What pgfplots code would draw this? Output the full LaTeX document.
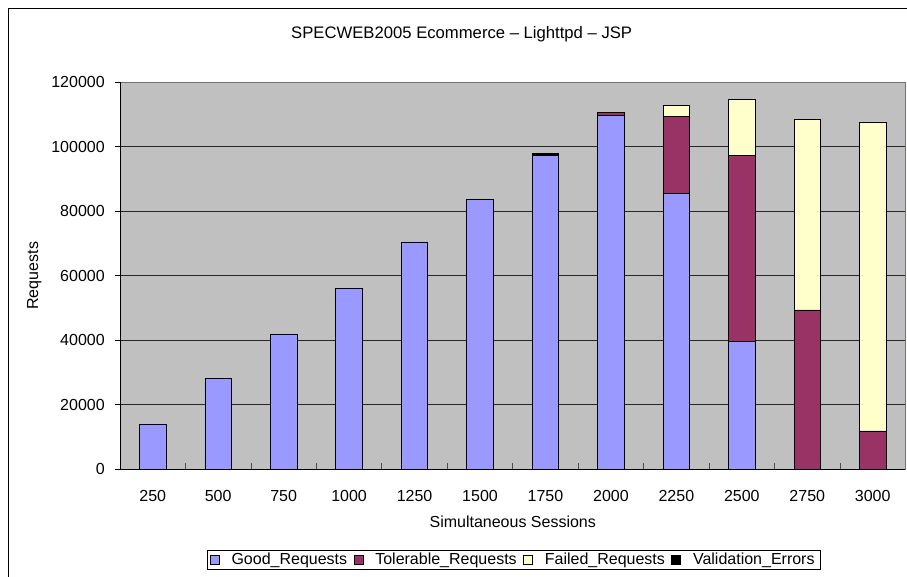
\documentclass[border=0pt]{standalone}
\usepackage{fontspec}
\setmainfont{Liberation Sans}
\usepackage{pgfplots}
\pgfplotsset{compat=1.18}
\definecolor{plotbg}{HTML}{C0C0C0}
\definecolor{good}{HTML}{9999FF}
\definecolor{tol}{HTML}{993366}
\definecolor{fail}{HTML}{FFFFCC}
\newcommand{\chartfont}{\fontsize{12}{14}\selectfont}
\begin{document}
\begin{tikzpicture}
\useasboundingbox (0pt,0pt) rectangle (680.25pt,-432pt);
\begin{scope}
\clip (0pt,0pt) rectangle (680.25pt,-432pt);
\draw[black, line width=0.75pt] (6pt,-6pt) rectangle (700pt,-450pt);
\end{scope}
\begin{axis}[
  at={(90pt,-351.98pt)}, anchor=south west,
  scale only axis, width=589.1pt, height=290.3pt,
  ybar stacked, bar width=19.9pt,
  xmin=-0.5, xmax=11.5, ymin=0, ymax=120000,
  xtick={0,...,11},
  xticklabels={250,500,750,1000,1250,1500,1750,2000,2250,2500,2750,3000},
  minor xtick={-0.5,0.5,...,11.5},
  ytick={0,20000,...,120000},
  scaled y ticks=false,
  /pgf/number format/.cd, fixed, precision=0, 1000 sep={}, assume math mode=true,
  /pgfplots/.cd,
  tick align=inside,
  xtick pos=left, ytick pos=left,
  major tick length=3.75pt,
  minor tick length=4.5pt,
  major x tick style={draw=none},
  minor x tick style={black!70, line width=0.6pt},
  ytick style={black, line width=0.6pt, xshift=-3.75pt},
  ymajorgrids,
  major grid style={black!85, line width=0.6pt},
  axis line style={draw=black!55, line width=0.75pt},
  axis background/.style={fill=plotbg},
  tick label style={font=\chartfont},
  xticklabel style={anchor=base, inner sep=0pt, yshift=-24.3pt},
  yticklabel style={anchor=east, inner sep=0pt, xshift=-11.25pt},
  every axis title shift=0pt,
  title={SPECWEB2005 Ecommerce – Lighttpd – JSP},
  title style={at={(axis description cs:0.435,1.1137)}, anchor=base, font=\fontsize{12.5}{14}\selectfont, inner sep=0pt},
  xlabel={Simultaneous Sessions},
  xlabel style={at={(axis description cs:0.5,-0.1516)}, anchor=base, font=\chartfont, inner sep=0pt},
  ylabel={Requests},
  ylabel style={at={(axis description cs:-0.1041,0.5)}, anchor=base, font=\chartfont, inner sep=0pt},
  legend columns=4,
  legend style={at={(axis description cs:0.501,-0.233)}, anchor=center,
    draw=black, fill=white, line width=0.6pt, font=\chartfont,
    inner xsep=2pt, inner ysep=1pt,
    nodes={inner ysep=1pt},
    /tikz/every odd column/.append style={column sep=7pt},
    /tikz/every even column/.append style={column sep=2.8pt}},
]
\addplot+[fill=good, draw=black, line width=0.6pt,
  legend image code/.code={\draw[fill=good,draw=black,line width=0.5pt] (0pt,-3.4pt) rectangle (6.8pt,3.4pt);}]
  coordinates {(0,13800) (1,28100) (2,41700) (3,56100) (4,70500) (5,83700) (6,97300) (7,109700) (8,85600) (9,39600) (10,0) (11,0)};
\addlegendentry{Good\_Requests}
\addplot+[fill=tol, draw=black, line width=0.6pt,
  legend image code/.code={\draw[fill=tol,draw=black,line width=0.5pt] (0pt,-3.4pt) rectangle (6.8pt,3.4pt);}]
  coordinates {(0,0) (1,0) (2,0) (3,0) (4,0) (5,0) (6,0) (7,800) (8,23800) (9,57700) (10,49400) (11,11900)};
\addlegendentry{Tolerable\_Requests}
\addplot+[fill=fail, draw=black, line width=0.6pt,
  legend image code/.code={\draw[fill=fail,draw=black,line width=0.5pt] (0pt,-3.4pt) rectangle (6.8pt,3.4pt);}]
  coordinates {(0,0) (1,0) (2,0) (3,0) (4,0) (5,0) (6,0) (7,0) (8,3500) (9,17400) (10,59000) (11,95800)};
\addlegendentry{Failed\_Requests}
\addplot+[fill=black, draw=black, line width=0.6pt,
  legend image code/.code={\draw[fill=black,draw=black,line width=0.5pt] (0pt,-3.4pt) rectangle (6.8pt,3.4pt);}]
  coordinates {(0,0) (1,0) (2,0) (3,0) (4,0) (5,0) (6,500) (7,0) (8,0) (9,0) (10,0) (11,0)};
\addlegendentry{Validation\_Errors}
\draw[black, line width=0.75pt] (axis cs:-0.5,120000) -- (axis cs:-0.5,0) -- (axis cs:11.5,0);
\end{axis}
\end{tikzpicture}
\end{document}
